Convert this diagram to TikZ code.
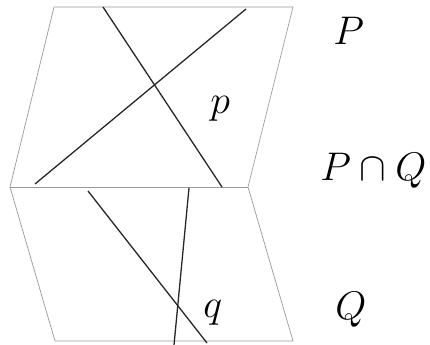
\documentclass[tikz,border=0pt]{standalone}
\usepackage{amsmath,amssymb}
\usetikzlibrary{positioning}
\begin{document}
\begin{tikzpicture}[
  x=0.03cm, y=-0.03cm,
  plane/.style={draw=gray!80, line width=0.6pt},
  ray/.style={draw=black!85, line width=1.1pt},
  lbl/.style={font=\Huge, scale=1.37, inner sep=0pt, anchor=base west}
]
\useasboundingbox (0,0) rectangle (430,345);

% corners of the two half-planes
\coordinate (tl) at (54,7);
\coordinate (tr) at (293,7);
\coordinate (ml) at (10,187);
\coordinate (mr) at (248,187);
\coordinate (bl) at (55,341);
\coordinate (br) at (293,341);

\draw[plane] (ml) -- (tl) -- (tr) -- (mr);
\draw[plane] (ml) -- (bl) -- (br) -- (mr);
\draw[plane] (ml) -- (mr);

% lines in P
\coordinate (p1a) at (103,7);
\coordinate (p1b) at (222,187);
\coordinate (p2a) at (35,184);
\coordinate (p2b) at (246,9);
\draw[ray] (p1a) -- (p1b);
\draw[ray] (p2a) -- (p2b);

% lines in Q
\coordinate (q1a) at (88,191);
\coordinate (q1b) at (207,343);
\coordinate (q2a) at (189,188);
\coordinate (q2b) at (174,345);
\draw[ray] (q1a) -- (q1b);
\draw[ray] (q2a) -- (q2b);

\node[lbl] (pp) at (210,114) {$p$};
\node[lbl] (qq) at (203,317) {$q$};

\node[lbl] (P) at (333,45) {$P$};
\node[lbl] (PQ) at (320,180) {$P\cap Q$};
\node[lbl] (Q) at (335,319) {$Q$};
\end{tikzpicture}
\end{document}
